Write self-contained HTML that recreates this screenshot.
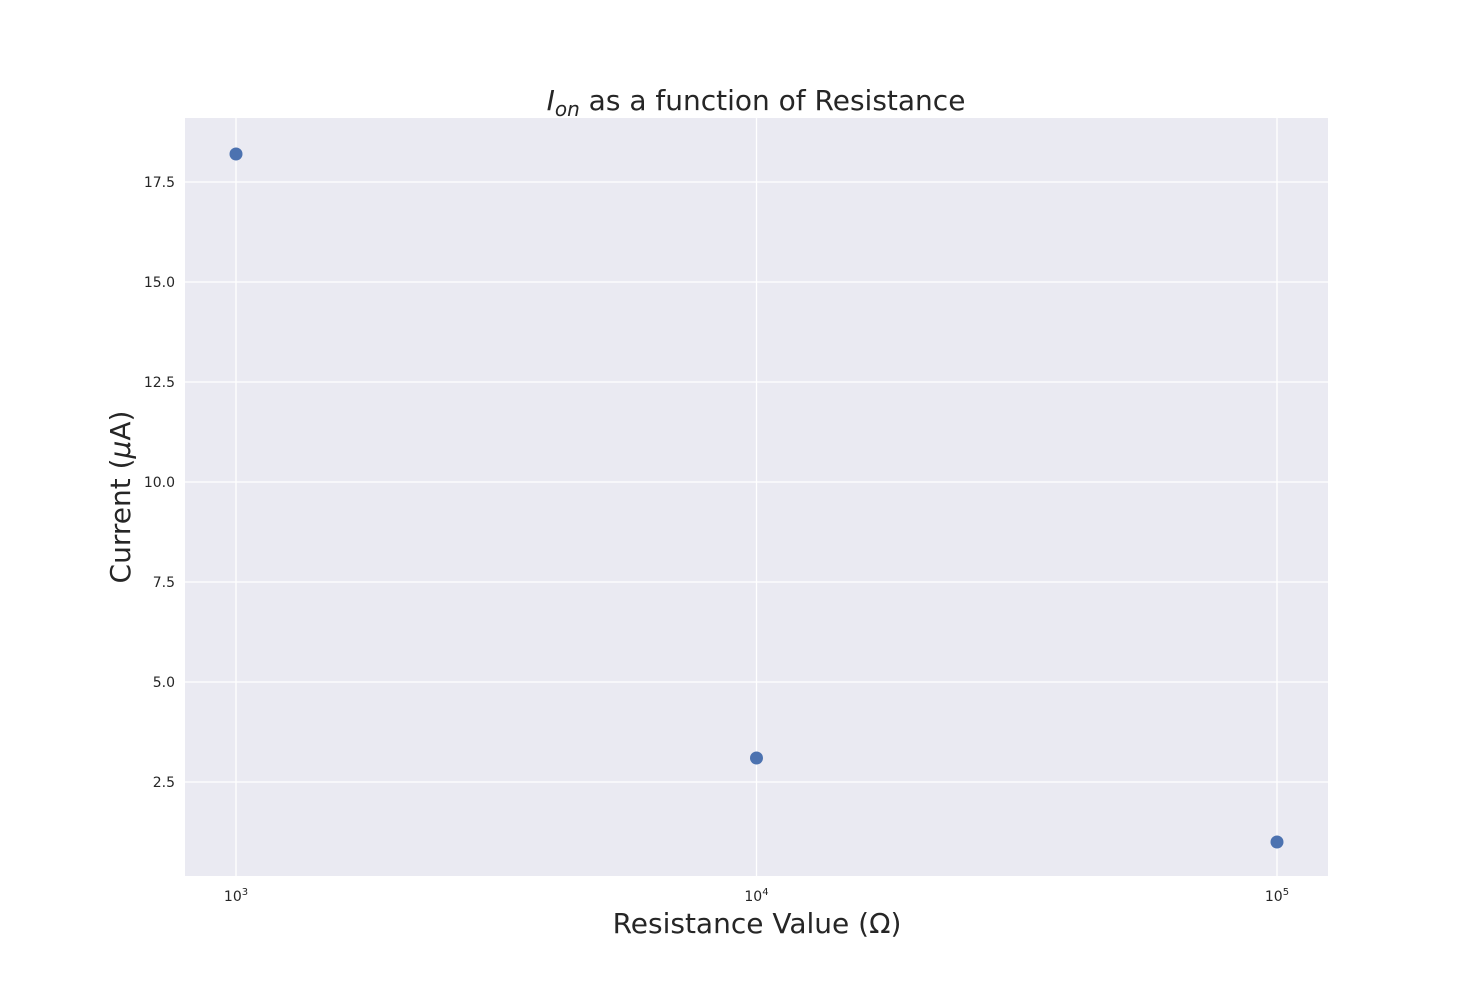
<!DOCTYPE html>
<html><head><meta charset="utf-8"><style>body{margin:0;background:#fff}svg{display:block}</style></head>
<body>
<svg id="chart" width="1476" height="984" xmlns="http://www.w3.org/2000/svg" font-family="'DejaVu Sans','Liberation Sans',sans-serif">
<rect x="185" y="118" width="1143" height="758" fill="#eaeaf2"/>
<g id="grid"></g>
<g id="ticks"></g>
<g id="points"></g>
<text x="756" y="110" font-size="28" text-anchor="middle" fill="#262626"><tspan font-style="italic">I</tspan><tspan font-style="italic" font-size="20" dy="6">on</tspan><tspan dy="-6"> as a function of Resistance</tspan></text>
<text x="757" y="933" font-size="28" text-anchor="middle" fill="#262626">Resistance Value (Ω)</text>
<text transform="translate(130,497) rotate(-90)" font-size="28" text-anchor="middle" fill="#262626">Current (<tspan font-style="italic">μ</tspan>A)</text>
</svg>
<script>
const resistances=[1000,10000,100000];
const currents=[18.2,3.1,1.0];
const yTicks=[2.5,5.0,7.5,10.0,12.5,15.0,17.5];
const xTickExps=[3,4,5];
const X0=185,X1=1328,Y0=118,Y1=876;
const xMin=2.902,xMax=5.098,yMin=0.15,yMax=19.1;
function xs(v){return X0+(Math.log10(v)-xMin)/(xMax-xMin)*(X1-X0);}
function ys(v){return Y1-(v-yMin)/(yMax-yMin)*(Y1-Y0);}
const NS="http://www.w3.org/2000/svg";
const g=document.getElementById('grid'),t=document.getElementById('ticks'),p=document.getElementById('points');
function mk(tag,a){const e=document.createElementNS(NS,tag);for(const k in a)e.setAttribute(k,a[k]);return e;}
yTicks.forEach(v=>{const y=ys(v);
const l=mk('line',{x1:X0,x2:X1,y1:y,y2:y,stroke:'#fff','stroke-width':1.3});


g.appendChild(l);
const tx=mk('text',{x:X0-10,y:y+5,'font-size':14,'text-anchor':'end',fill:'#262626'});


tx.textContent=v.toFixed(1);t.appendChild(tx);});
xTickExps.forEach(e=>{const x=xs(Math.pow(10,e));
const l=mk('line',{x1:x,x2:x,y1:Y0,y2:Y1,stroke:'#fff','stroke-width':1.3});


g.appendChild(l);
const tx=mk('text',{x:x,y:901,'font-size':14,'text-anchor':'middle',fill:'#262626'});


tx.innerHTML='10<tspan font-size="10" dy="-6">'+e+'</tspan>';t.appendChild(tx);});
resistances.forEach((r,i)=>{
const c=mk('circle',{cx:xs(r),cy:ys(currents[i]),r:6.5,fill:'#4c72b0'});


p.appendChild(c);});
</script>
</body></html>
